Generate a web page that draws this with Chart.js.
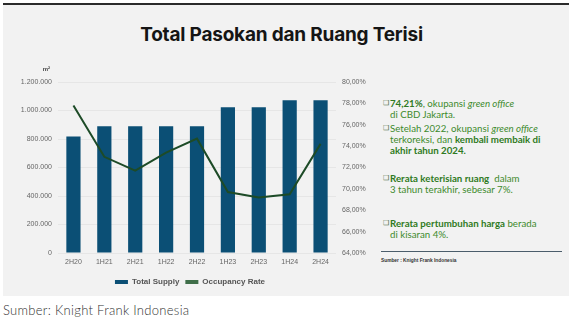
<!DOCTYPE html>
<html>
<head>
<meta charset="utf-8">
<script src="https://cdn.jsdelivr.net/npm/chart.js@4"></script>
<style>
body { margin: 0; width: 575px; height: 321px; background: #fff; position: relative; overflow: hidden; }
#panel { position: absolute; left: 3px; top: 3px; width: 566px; height: 291px; background: #f2f2f2; border-top: 2px solid #2b2b2b; }
#title { position: absolute; left: 0; top: 23px; width: 563px; text-align: center; font: 700 19px Inter, sans-serif; color: #151515; letter-spacing: -0.2px; }
#chartBox { position: absolute; left: 0; top: 0; width: 380px; height: 296px; }
.note { position: absolute; left: 383px; font: 9.7px Lato, sans-serif; line-height: 11px; color: #3d8a2c; padding-left: 7px; }
.note .b { position: absolute; left: 0; top: 1px; font: 7px "DejaVu Sans"; color: #3d6a35; }
.note strong { color: #2f7a22; }
#rule { position: absolute; left: 381px; top: 251px; width: 181px; height: 1px; background: #4b5d6b; }
#src1 { position: absolute; left: 381px; top: 258px; font: 700 4.8px "Liberation Sans", sans-serif; color: #333; }
#src2 { position: absolute; left: 3px; top: 302px; font: 300 13px Lato, sans-serif; color: #333; letter-spacing: 0.3px; }
</style>
</head>
<body>
<div id="panel"></div>
<div id="title">Total Pasokan dan Ruang Terisi</div>
<div id="chartBox"><canvas id="chart" width="380" height="296"></canvas></div>

<div class="note" style="top:98px"><span class="b">❑</span><strong>74,21%</strong>, okupansi <i>green office</i><br>di CBD Jakarta.</div>
<div class="note" style="top:123px"><span class="b">❑</span>Setelah 2022, okupansi <i>green office</i><br>terkoreksi, dan <strong>kembali membaik di<br>akhir tahun 2024.</strong></div>
<div class="note" style="top:173px"><span class="b">❑</span><strong>Rerata keterisian ruang</strong>&nbsp; dalam<br>3 tahun terakhir, sebesar 7%.</div>
<div class="note" style="top:218px"><span class="b">❑</span><strong>Rerata pertumbuhan harga</strong> berada<br>di kisaran 4%.</div>
<div id="rule"></div>
<div id="src1">Sumber : Knight Frank Indonesia</div>
<div id="src2">Sumber: Knight Frank Indonesia</div>

<script>
// chart data
const categories = ["2H20", "1H21", "2H21", "1H22", "2H22", "1H23", "2H23", "1H24", "2H24"];
const total_supply = [818000, 890000, 890000, 890000, 890000, 1022000, 1022000, 1072000, 1072000];
const occupancy_rate = [77.8, 73.0, 71.7, 73.4, 74.7, 69.7, 69.2, 69.5, 74.21];

const tick_font = { family: "Liberation Sans", size: 7 };

// "m²" unit label above the left axis
const unitLabel = {
    id: "unitLabel",
    afterDraw(chart) {
        const ctx = chart.ctx;
        ctx.save();
        ctx.font = "bold 6px 'Liberation Sans'";
        ctx.fillStyle = "#444";
        ctx.textAlign = "right";
        ctx.textBaseline = "middle";
        ctx.fillText("m²", chart.chartArea.left - 8, chart.chartArea.top - 13);
        ctx.restore();
    }
};

new Chart("chart", {
    type: "bar",
    data: {
        labels: categories,
        datasets: [{
            label: "Total Supply",
            data: total_supply,
            backgroundColor: "#0b4f75",
            borderWidth: 0,
            barPercentage: 0.46,
            categoryPercentage: 1,
            yAxisID: "y",
            order: 2
        }, {
            type: "line",
            label: "Occupancy Rate",
            data: occupancy_rate,
            borderColor: "#1d4b27",
            backgroundColor: "#3f6e49",
            borderWidth: 2,
            pointRadius: 0,
            tension: 0,
            yAxisID: "y1",
            order: 1
        }]
    },
    options: {
        animation: false,
        responsive: false,
        layout: { padding: { top: 82, left: 0, right: 0, bottom: 0 } },
        plugins: {
            legend: {
                position: "bottom",
                labels: {
                    boxWidth: 13,
                    boxHeight: 4,
                    padding: 6,
                    color: "#555",
                    font: { family: "Liberation Sans", size: 8, weight: "bold" },
                    sort: (a, b) => a.datasetIndex - b.datasetIndex,
                    generateLabels: (chart) => {
                        const items = Chart.defaults.plugins.legend.labels.generateLabels(chart);
                        items.forEach((it) => {
                            if (it.datasetIndex === 1) it.fillStyle = "#3f6e49";
                            it.lineWidth = 0;
                        });
                        return items;
                    }
                }
            },
            tooltip: { enabled: false }
        },
        scales: {
            x: {
                afterFit: (s) => { s.height = 19; },
                grid: { display: false, drawTicks: false },
                border: { display: false },
                ticks: { color: "#666", font: tick_font, padding: 5, maxRotation: 0 }
            },
            y: {
                position: "left",
                min: 0,
                max: 1200000,
                afterFit: (s) => { s.width = 58; },
                grid: { color: "#e6e6e6", drawTicks: false },
                border: { display: false },
                ticks: {
                    stepSize: 200000,
                    color: "#666",
                    font: tick_font,
                    padding: 6,
                    callback: (v) => v.toString().replace(/\B(?=(\d{3})+(?!\d))/g, ".")
                }
            },
            y1: {
                position: "right",
                min: 64,
                max: 80,
                afterFit: (s) => { s.width = 44; },
                grid: { display: false, drawTicks: false },
                border: { display: false },
                ticks: {
                    stepSize: 2,
                    color: "#666",
                    font: tick_font,
                    padding: 6,
                    callback: (v) => v.toFixed(2).replace(".", ",") + "%"
                }
            }
        }
    },
    plugins: [unitLabel]
});
</script>
</body>
</html>
